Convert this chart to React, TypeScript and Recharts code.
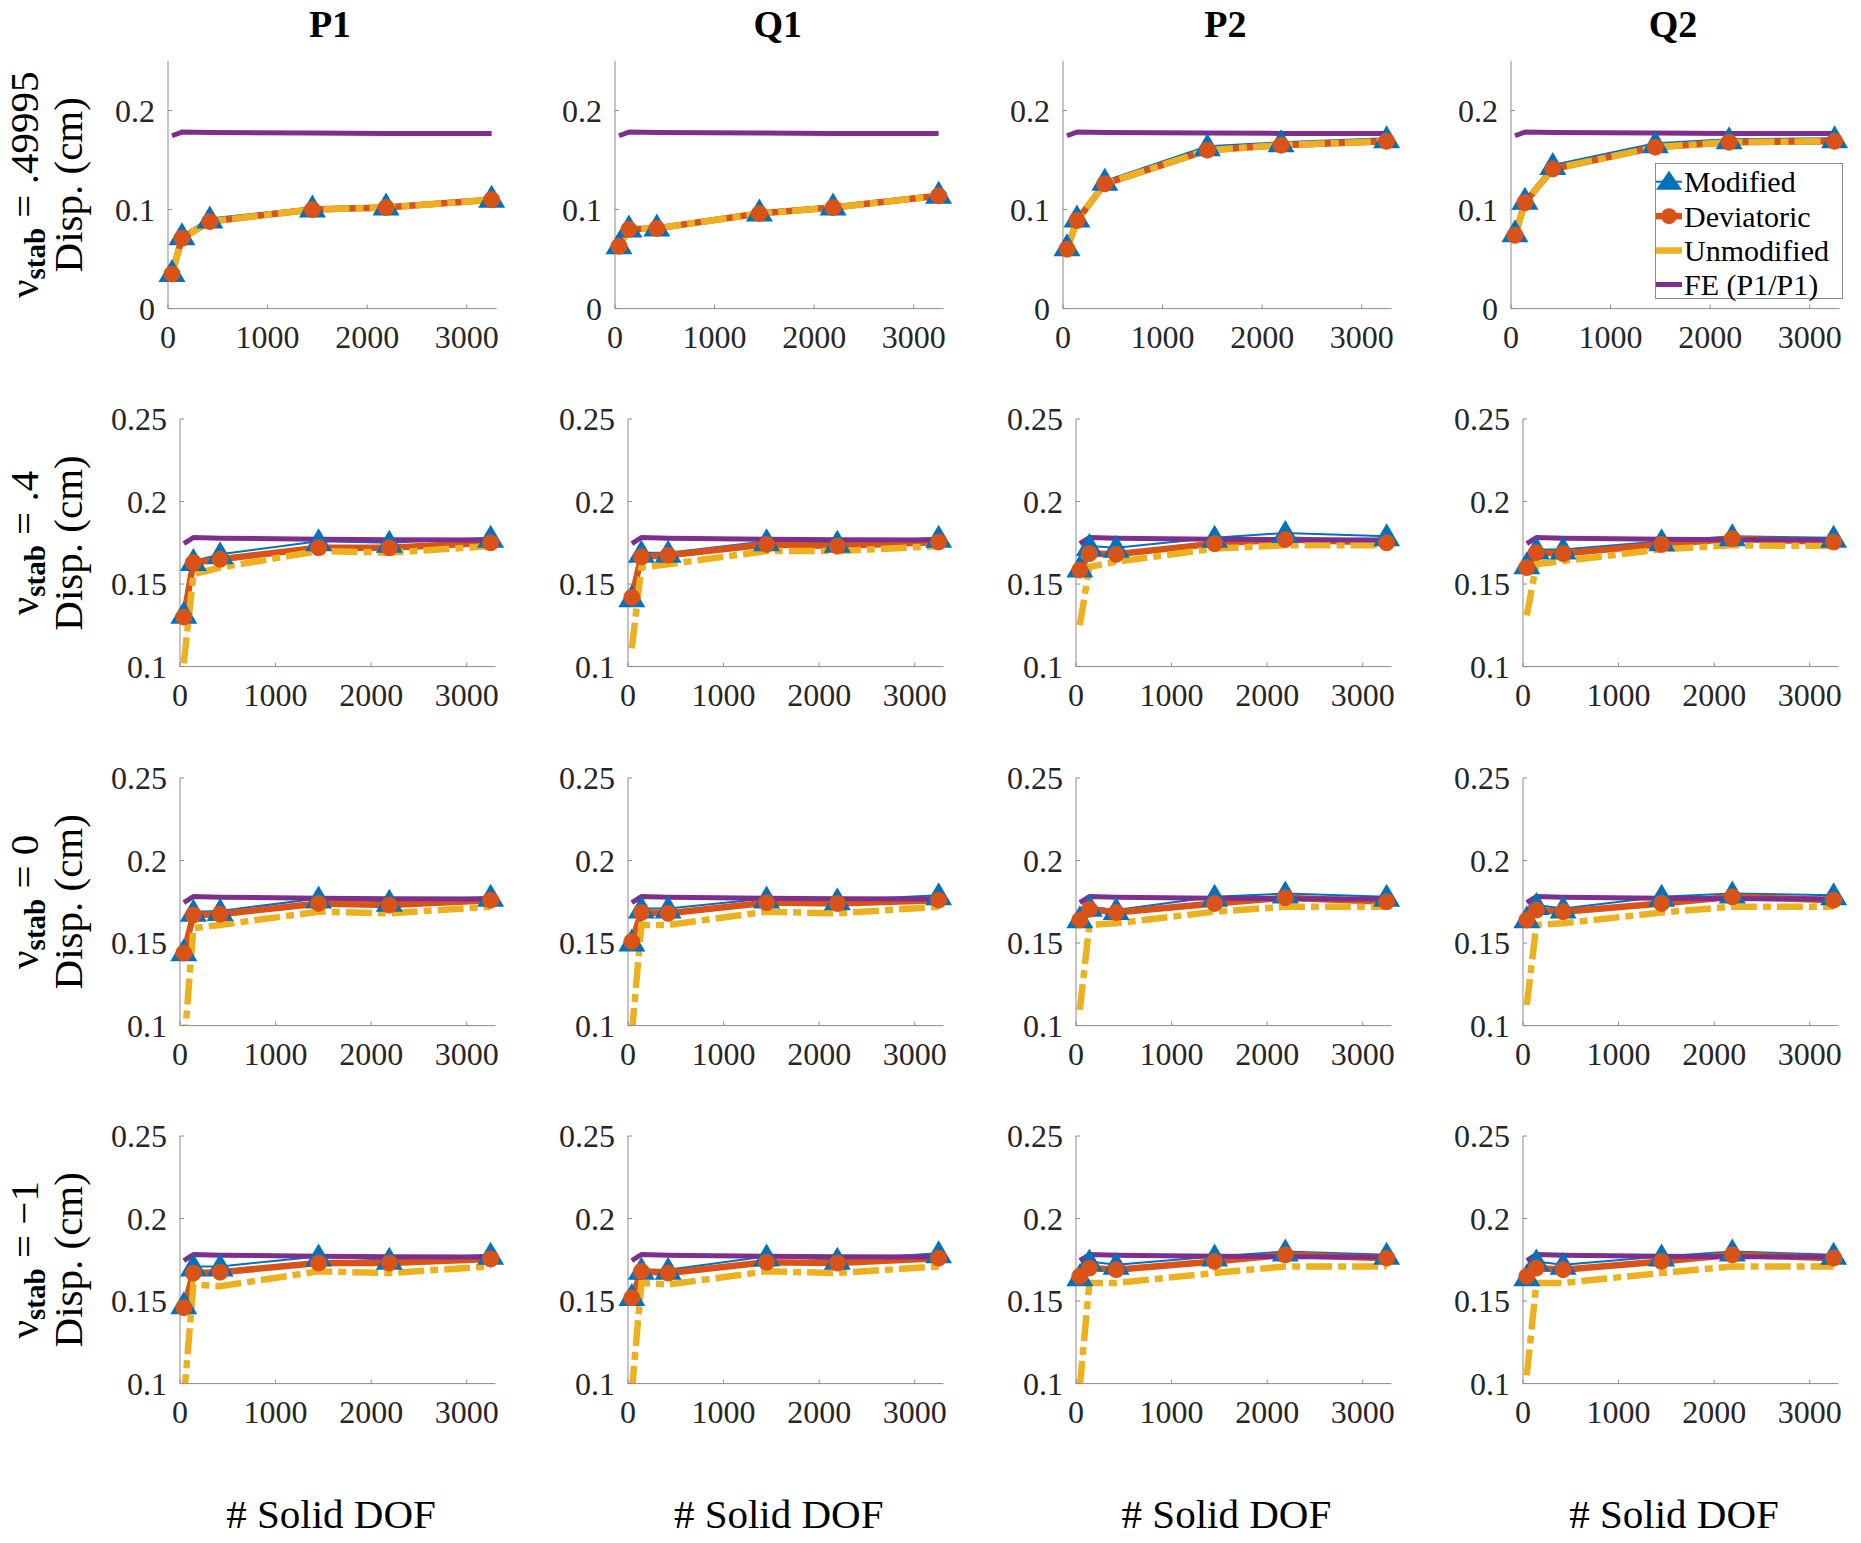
import React from 'react';
import { LineChart, Line, XAxis, YAxis, Legend } from 'recharts';

// ---------- data ----------
const xDOF = [40, 140, 420, 1450, 2190, 3250];
const elementNames = ['P1', 'Q1', 'P2', 'Q2'];
const nuLabels = ['.49995', '.4', '0', '\u22121'];
const seriesNames = ['Modified', 'Deviatoric', 'Unmodified', 'FE (P1/P1)'];
const xTicks = [0, 1000, 2000, 3000];
const yTicksTop = [0, 0.1, 0.2];
const yTicksLower = [0.1, 0.15, 0.2, 0.25];

const feReference = [0.1745, 0.1782, 0.1778, 0.1772, 0.1769, 0.1767];

// rows: nu_stab = .49995, .4, 0, -1 ; inner arrays: P1, Q1, P2, Q2
const modifiedRow1 = [
  [0.037, 0.074, 0.091, 0.102, 0.104, 0.112],
  [0.065, 0.082, 0.083, 0.098, 0.104, 0.116],
  [0.063, 0.092, 0.129, 0.164, 0.168, 0.172],
  [0.077, 0.110, 0.145, 0.167, 0.171, 0.172],
];
const deviatoricRow1 = [
  [0.035, 0.071, 0.088, 0.100, 0.102, 0.110],
  [0.063, 0.080, 0.081, 0.096, 0.102, 0.114],
  [0.060, 0.089, 0.126, 0.160, 0.165, 0.169],
  [0.074, 0.107, 0.141, 0.163, 0.168, 0.169],
];
const unmodifiedRow1 = [
  [0.035, 0.071, 0.088, 0.100, 0.102, 0.110],
  [0.063, 0.080, 0.081, 0.096, 0.102, 0.114],
  [0.060, 0.089, 0.126, 0.160, 0.165, 0.169],
  [0.074, 0.107, 0.141, 0.163, 0.168, 0.169],
];

const modifiedRow2 = [
  [0.132, 0.164, 0.168, 0.176, 0.175, 0.178],
  [0.142, 0.169, 0.169, 0.176, 0.175, 0.178],
  [0.160, 0.173, 0.172, 0.178, 0.181, 0.179],
  [0.162, 0.171, 0.171, 0.176, 0.179, 0.178],
];
const deviatoricRow2 = [
  [0.130, 0.163, 0.165, 0.172, 0.172, 0.175],
  [0.142, 0.1665, 0.1675, 0.174, 0.173, 0.1755],
  [0.1585, 0.1685, 0.168, 0.1745, 0.177, 0.175],
  [0.160, 0.169, 0.1685, 0.174, 0.1775, 0.1755],
];
const unmodifiedRow2 = [
  [0.102, 0.156, 0.160, 0.170, 0.169, 0.173],
  [0.111, 0.160, 0.162, 0.170, 0.170, 0.173],
  [0.125, 0.1605, 0.1635, 0.1715, 0.1735, 0.1735],
  [0.131, 0.162, 0.164, 0.171, 0.1735, 0.173],
];

const modifiedRow3 = [
  [0.145, 0.169, 0.1695, 0.177, 0.175, 0.178],
  [0.151, 0.171, 0.171, 0.177, 0.176, 0.179],
  [0.165, 0.172, 0.170, 0.178, 0.180, 0.178],
  [0.165, 0.173, 0.171, 0.178, 0.180, 0.179],
];
const deviatoricRow3 = [
  [0.144, 0.167, 0.1675, 0.174, 0.173, 0.176],
  [0.151, 0.1685, 0.168, 0.1745, 0.174, 0.176],
  [0.164, 0.1705, 0.1685, 0.174, 0.1775, 0.175],
  [0.164, 0.170, 0.169, 0.174, 0.178, 0.176],
];
const unmodifiedRow3 = [
  [0.085, 0.159, 0.161, 0.169, 0.168, 0.172],
  [0.095, 0.161, 0.161, 0.169, 0.168, 0.172],
  [0.1095, 0.161, 0.162, 0.169, 0.172, 0.172],
  [0.1125, 0.161, 0.162, 0.1685, 0.172, 0.172],
];

const modifiedRow4 = [
  [0.148, 0.171, 0.171, 0.177, 0.175, 0.178],
  [0.153, 0.169, 0.169, 0.177, 0.175, 0.179],
  [0.165, 0.174, 0.172, 0.177, 0.180, 0.178],
  [0.165, 0.174, 0.172, 0.177, 0.180, 0.178],
];
const deviatoricRow4 = [
  [0.146, 0.167, 0.1675, 0.173, 0.173, 0.1755],
  [0.152, 0.168, 0.167, 0.1735, 0.173, 0.176],
  [0.165, 0.170, 0.169, 0.174, 0.178, 0.176],
  [0.165, 0.170, 0.169, 0.174, 0.178, 0.176],
];
const unmodifiedRow4 = [
  [0.090, 0.160, 0.159, 0.168, 0.167, 0.171],
  [0.095, 0.161, 0.160, 0.168, 0.167, 0.171],
  [0.098, 0.161, 0.161, 0.167, 0.171, 0.171],
  [0.105, 0.161, 0.161, 0.167, 0.171, 0.171],
];

const modifiedRows = [modifiedRow1, modifiedRow2, modifiedRow3, modifiedRow4];
const deviatoricRows = [deviatoricRow1, deviatoricRow2, deviatoricRow3, deviatoricRow4];
const unmodifiedRows = [unmodifiedRow1, unmodifiedRow2, unmodifiedRow3, unmodifiedRow4];

// ---------- style ----------
const FONT = "'Liberation Serif', 'Times New Roman', Times, serif";
const C_MOD = '#0072BD';
const C_DEV = '#D95319';
const C_UNM = '#EDB120';
const C_FE = '#7E2F8E';
const AXIS_COLOR = '#8c8c8c';
const TICK_COLOR = '#262626';

const COL_STEP = 447.7;
const ROW_TOPS = [61, 419.2, 778, 1136];
const PLOT_H = 247.6;

const ML = 10, YW = 90, MR = 24, MT = 32, XH = 50, MB = 10;

const triDot = (props: any) => {
  const { cx, cy, index } = props;
  if (cx == null || cy == null) return <g key={`tn${index}`} />;
  const w = 13.5, up = 13, down = 10;
  return (
    <polygon
      key={`t${index}`}
      points={`${cx},${cy - up} ${cx - w},${cy + down} ${cx + w},${cy + down}`}
      fill={C_MOD}
      stroke="none"
    />
  );
};

const LEG_W = 188, LEG_H = 136;

function LegendBox() {
  const rowsY = [18.7, 53.2, 87.5, 121.5];
  return (
    <svg width={LEG_W} height={LEG_H} style={{ display: 'block', overflow: 'visible' }}>
      <rect x={0.5} y={0.5} width={LEG_W - 1} height={LEG_H - 1} fill="#fff" stroke="#8a8a8a" strokeWidth={1} />
      {seriesNames.map((name, i) => {
        const cy = rowsY[i];
        let icon: any = null;
        if (i === 0) {
          icon = (
            <g>
              <line x1={1} x2={27} y1={cy} y2={cy} stroke={C_MOD} strokeWidth={2} />
              <polygon points={`14,${cy - 11} ${1},${cy + 8} ${27},${cy + 8}`} fill={C_MOD} />
            </g>
          );
        } else if (i === 1) {
          icon = (
            <g>
              <line x1={1} x2={27} y1={cy} y2={cy} stroke={C_DEV} strokeWidth={6.5} />
              <circle cx={14} cy={cy} r={8} fill={C_DEV} />
            </g>
          );
        } else if (i === 2) {
          icon = <line x1={1} x2={27} y1={cy} y2={cy} stroke={C_UNM} strokeWidth={6.5} />;
        } else {
          icon = <line x1={1} x2={27} y1={cy} y2={cy} stroke={C_FE} strokeWidth={5} />;
        }
        return (
          <g key={name}>
            {icon}
            <text x={29} y={cy} dominantBaseline="central" fontFamily={FONT} fontSize={30} fill="#000">
              {name}
            </text>
          </g>
        );
      })}
    </svg>
  );
}

function Panel({ row, col }: { row: number; col: number }) {
  const axisLeft = (row === 0 ? 167.7 : 180.3) + COL_STEP * col;
  const axisRight = (row === 0 ? 496.3 : 495.7) + COL_STEP * col;
  const plotTop = ROW_TOPS[row];
  const width = axisRight - axisLeft + ML + YW + MR;
  const height = PLOT_H + MT + XH + MB;
  const left = axisLeft - ML - YW;
  const top = plotTop - MT;
  const data = xDOF.map((x, i) => ({
    x,
    mod: modifiedRows[row][col][i],
    dev: deviatoricRows[row][col][i],
    unm: unmodifiedRows[row][col][i],
    fe: feReference[i],
  }));
  const domain: [number, number] = row === 0 ? [0, 0.25] : [0.1, 0.25];
  const yTicks = row === 0 ? yTicksTop : yTicksLower;
  const tickStyle = { fill: TICK_COLOR, fontSize: 32, fontFamily: FONT };
  return (
    <div style={{ position: 'absolute', left, top, width, height }}>
      <LineChart width={width} height={height} data={data} margin={{ top: MT, right: MR, bottom: MB, left: ML }}>
        <XAxis
          dataKey="x"
          type="number"
          domain={[0, 3300]}
          ticks={xTicks}
          interval={0}
          height={XH}
          tickSize={-4}
          tickMargin={21}
          stroke={AXIS_COLOR}
          tick={tickStyle}
        />
        <YAxis
          type="number"
          domain={domain}
          ticks={yTicks}
          interval={0}
          width={YW}
          tickSize={-4}
          tickMargin={17}
          stroke={AXIS_COLOR}
          tick={tickStyle}
          tickFormatter={(v: number) => (v === 0 ? '0' : String(v))}
        />
        <YAxis yAxisId="clip" type="number" domain={domain} allowDataOverflow hide />
        <Line
          dataKey="mod"
          stroke={C_MOD}
          strokeWidth={2}
          dot={triDot}
          activeDot={false}
          isAnimationActive={false}
          strokeLinejoin="round"
        />
        <Line
          dataKey="dev"
          stroke={C_DEV}
          strokeWidth={6.5}
          dot={{ r: 8, fill: C_DEV, stroke: C_DEV, strokeWidth: 1 }}
          activeDot={false}
          isAnimationActive={false}
          strokeLinejoin="round"
        />
        <Line
          dataKey="unm"
          yAxisId="clip"
          stroke={C_UNM}
          strokeWidth={6.5}
          strokeDasharray="26 6 8 6"
          dot={false}
          activeDot={false}
          isAnimationActive={false}
        />
        <Line
          dataKey="fe"
          stroke={C_FE}
          strokeWidth={5}
          dot={false}
          activeDot={false}
          isAnimationActive={false}
          strokeLinejoin="round"
        />
        {row === 0 && col === 3 ? (
          <Legend
            layout="vertical"
            align="center"
            verticalAlign="middle"
            content={() => <LegendBox />}
            wrapperStyle={{ left: 1655 - left, top: 163 - top, width: LEG_W, height: LEG_H }}
          />
        ) : null}
      </LineChart>
    </div>
  );
}

export default function App() {
  const panels: any[] = [];
  for (let r = 0; r < 4; r++) {
    for (let c = 0; c < 4; c++) {
      panels.push(<Panel key={`${r}-${c}`} row={r} col={c} />);
    }
  }
  return (
    <div
      style={{
        position: 'absolute',
        left: 0,
        top: 0,
        width: 1861,
        height: 1543,
        background: '#fff',
        overflow: 'hidden',
      }}
    >
      {panels}
      <svg
        width={1861}
        height={1543}
        style={{ position: 'absolute', left: 0, top: 0, pointerEvents: 'none' }}
      >
        {elementNames.map((name, c) => (
          <text
            key={name}
            x={330 + COL_STEP * c}
            y={37}
            textAnchor="middle"
            fontFamily={FONT}
            fontWeight="bold"
            fontSize={38}
            fill="#000"
          >
            {name}
          </text>
        ))}
        {elementNames.map((name, c) => (
          <text
            key={`xl-${name}`}
            x={331 + COL_STEP * c}
            y={1528}
            textAnchor="middle"
            fontFamily={FONT}
            fontSize={41}
            fill="#000"
          >
            # Solid DOF
          </text>
        ))}
        {nuLabels.map((nu, r) => {
          const cy = ROW_TOPS[r] + PLOT_H / 2;
          return (
            <g key={`rl-${r}`}>
              <text
                transform={`translate(38, ${cy}) rotate(-90)`}
                textAnchor="middle"
                fontFamily={FONT}
                fontSize={41}
                fill="#000"
              >
                <tspan>ν</tspan>
                <tspan fontWeight="bold" fontSize={29} dy={7}>
                  stab
                </tspan>
                <tspan dy={-7}>{` = ${nu}`}</tspan>
              </text>
              <text
                transform={`translate(82, ${cy}) rotate(-90)`}
                textAnchor="middle"
                fontFamily={FONT}
                fontSize={41}
                fill="#000"
              >
                Disp. (cm)
              </text>
            </g>
          );
        })}
      </svg>
    </div>
  );
}
